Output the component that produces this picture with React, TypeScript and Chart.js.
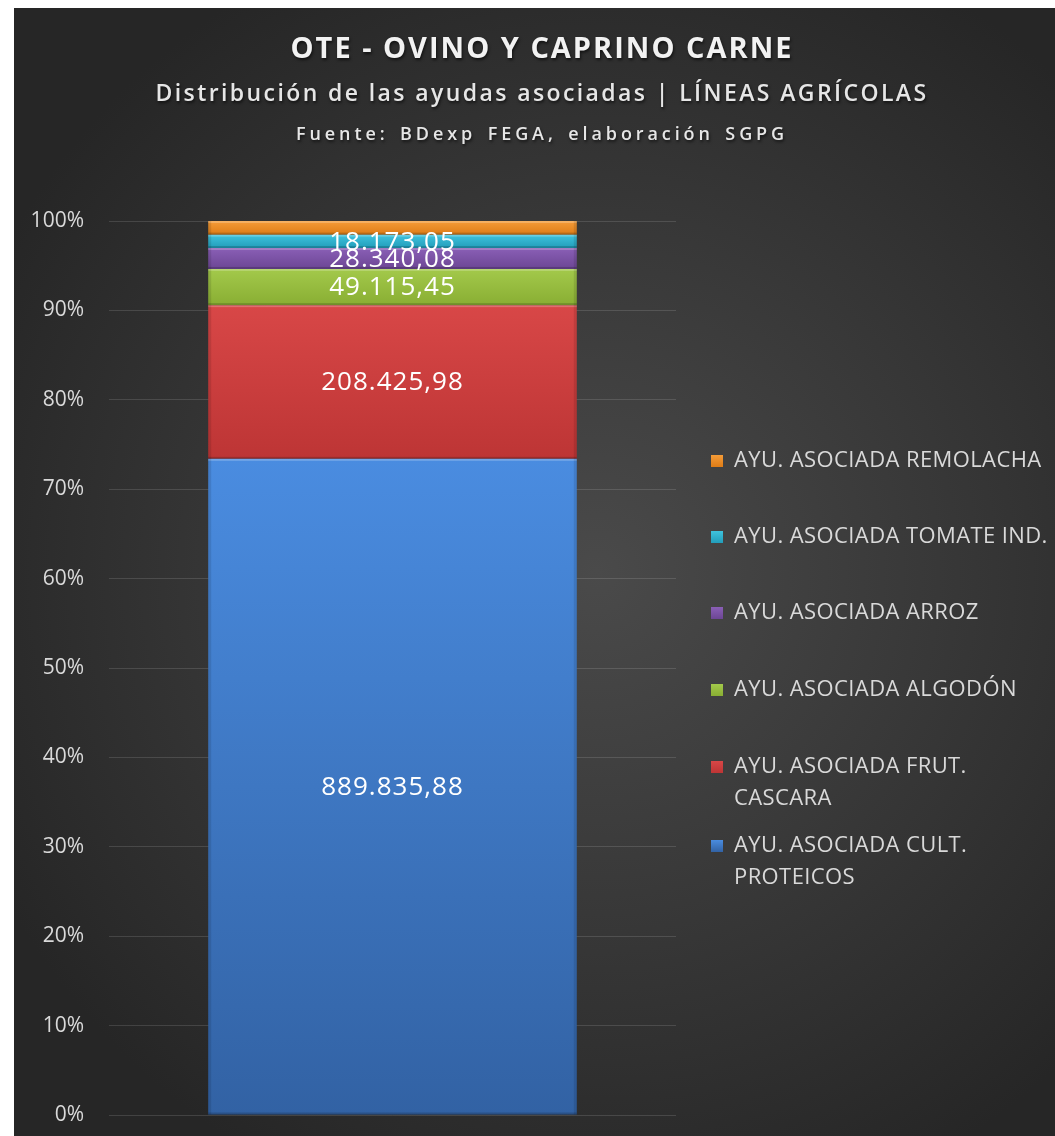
import React, { useEffect, useRef } from "react";
import { Chart, registerables } from "chart.js";

Chart.register(...registerables);

const categories = ["OVINO Y CAPRINO CARNE"];
const seriesNames = [
  "AYU. ASOCIADA CULT. PROTEICOS",
  "AYU. ASOCIADA FRUT. CASCARA",
  "AYU. ASOCIADA ALGODÓN",
  "AYU. ASOCIADA ARROZ",
  "AYU. ASOCIADA TOMATE IND.",
  "AYU. ASOCIADA REMOLACHA",
];
const legendLines = [
  ["AYU. ASOCIADA CULT.", "PROTEICOS"],
  ["AYU. ASOCIADA FRUT.", "CASCARA"],
  ["AYU. ASOCIADA ALGODÓN"],
  ["AYU. ASOCIADA ARROZ"],
  ["AYU. ASOCIADA TOMATE IND."],
  ["AYU. ASOCIADA REMOLACHA"],
];
const seriesValues = [889835.88, 208425.98, 49115.45, 28340.08, 18173.05, 18500];
const showValueLabel = [true, true, true, true, true, false];
const colorsTop = ["#4a8ce0", "#d84747", "#a3c94b", "#8a5fb6", "#3fc3de", "#f59c38"];
const colorsBottom = ["#3262a4", "#bd3535", "#89ae33", "#6c4694", "#229dba", "#de7c16"];
const yTicks = [0, 10, 20, 30, 40, 50, 60, 70, 80, 90, 100];

const FONT = "'Open Sans', 'Noto Sans', sans-serif";

function fmtEs(v: number): string {
  const [i, d] = v.toFixed(2).split(".");
  return i.replace(/\B(?=(\d{3})+(?!\d))/g, ".") + "," + d;
}

const legendY = [838, 759, 682, 605, 529, 453];

const labelsPlugin = {
  id: "customLabels",
  afterDatasetsDraw(chart: any) {
    const ctx = chart.ctx;
    ctx.save();
    // subtle bevel edges on each segment
    chart.data.datasets.forEach((ds: any, i: number) => {
      const meta = chart.getDatasetMeta(i);
      meta.data.forEach((el: any) => {
        const left = el.x - el.width / 2;
        const top = Math.min(el.y, el.base);
        const h = Math.abs(el.base - el.y);
        ctx.fillStyle = "rgba(255,255,255,0.22)";
        ctx.fillRect(left, top, el.width, Math.min(2, h));
        ctx.fillStyle = "rgba(0,0,0,0.18)";
        ctx.fillRect(left, top + h - Math.min(2, h), el.width, Math.min(2, h));
        ctx.fillStyle = "rgba(0,0,0,0.10)";
        ctx.fillRect(left, top, 3, h);
        ctx.fillRect(left + el.width - 3, top, 3, h);
      });
    });
    ctx.font = `26px ${FONT}`;
    (ctx as any).letterSpacing = "1px";
    ctx.fillStyle = "#ffffff";
    ctx.textAlign = "center";
    ctx.textBaseline = "middle";
    chart.data.datasets.forEach((ds: any, i: number) => {
      if (!showValueLabel[i]) return;
      const meta = chart.getDatasetMeta(i);
      meta.data.forEach((el: any) => {
        const cy = (el.y + el.base) / 2;
        ctx.fillText(fmtEs(seriesValues[i]), el.x, cy + 1);
      });
    });
    ctx.restore();
  },
  afterDraw(chart: any) {
    const ctx = chart.ctx;
    ctx.save();
    ctx.font = `22px ${FONT}`;
    (ctx as any).letterSpacing = "0.4px";
    ctx.textBaseline = "middle";
    ctx.textAlign = "left";
    chart.data.datasets.forEach((ds: any, i: number) => {
      const y = legendY[i];
      const g = ctx.createLinearGradient(0, y - 6, 0, y + 6);
      g.addColorStop(0, colorsTop[i]);
      g.addColorStop(1, colorsBottom[i]);
      ctx.fillStyle = g;
      ctx.fillRect(697, y - 6, 12, 12);
      ctx.fillStyle = "#d9d9d9";
      legendLines[i].forEach((line, k) => {
        ctx.fillText(line, 720, y + k * 32);
      });
    });
    ctx.restore();
  },
};

export default function App() {
  const ref = useRef<HTMLCanvasElement | null>(null);
  useEffect(() => {
    if (!ref.current) return;
    const total = seriesValues.reduce((a, b) => a + b, 0);
    const pct = seriesValues.map((v) => (v / total) * 100);
    const chart = new Chart(ref.current, {
      type: "bar",
      data: {
        labels: categories,
        datasets: seriesNames.map((name, i) => ({
          label: name,
          data: [pct[i]],
          backgroundColor: (c: any) => {
            const y = c.chart.scales?.y;
            if (!y) return colorsTop[i];
            const start = pct.slice(0, i).reduce((a, b) => a + b, 0);
            const yTop = y.getPixelForValue(start + pct[i]);
            const yBot = y.getPixelForValue(start);
            if (!isFinite(yTop) || !isFinite(yBot) || yTop === yBot) return colorsTop[i];
            const g = c.chart.ctx.createLinearGradient(0, yTop, 0, yBot);
            g.addColorStop(0, colorsTop[i]);
            g.addColorStop(1, colorsBottom[i]);
            return g;
          },
          borderWidth: 0,
          barPercentage: 0.65,
          categoryPercentage: 1,
        })),
      },
      options: {
        animation: false,
        responsive: false,
        maintainAspectRatio: false,
        layout: { padding: { top: 213, bottom: 21, left: 0, right: 379 } },
        plugins: {
          legend: { display: false },
          title: { display: false },
          tooltip: { enabled: false },
        },
        scales: {
          x: {
            display: false,
            stacked: true,
          },
          y: {
            stacked: true,
            min: 0,
            max: 100,
            afterFit: (s: any) => {
              s.width = 95;
            },
            afterBuildTicks: (s: any) => {
              s.ticks = yTicks.map((v) => ({ value: v }));
            },
            ticks: {
              color: "#d9d9d9",
              font: { family: FONT, size: 21 },
              padding: 0,
              callback: (v: any) => `${v}%`,
            },
            grid: {
              color: "rgba(255,255,255,0.13)",
              drawTicks: true,
              tickLength: 25,
              tickColor: "rgba(0,0,0,0)",
              lineWidth: 1,
            },
            border: { display: false },
          },
        },
      },
      plugins: [labelsPlugin],
    });
    return () => chart.destroy();
  }, []);

  const titleBase: React.CSSProperties = {
    position: "absolute",
    left: 15,
    right: 0,
    textAlign: "center",
    fontFamily: FONT,
    whiteSpace: "nowrap",
    textShadow: "1px 2px 3px rgba(0,0,0,0.6)",
  };

  return (
    <div
      style={{
        position: "fixed",
        left: 14,
        top: 8,
        width: 1041,
        height: 1128,
        background:
          "radial-gradient(ellipse 65% 60% at 56% 50%, #4a4a4a 0%, #3a3a3a 45%, #262626 100%)",
        overflow: "hidden",
      }}
    >
      <canvas ref={ref} width={1041} height={1128} style={{ position: "absolute", left: 0, top: 0 }} />
      <div style={{ ...titleBase, top: 21, fontSize: 29, lineHeight: "36px", fontWeight: 700, color: "#f2f2f2", letterSpacing: 2 }}>
        OTE - OVINO Y CAPRINO CARNE
      </div>
      <div style={{ ...titleBase, top: 68, fontSize: 23, lineHeight: "32px", fontWeight: 600, color: "#e6e6e6", letterSpacing: 2.4 }}>
        Distribución de las ayudas asociadas | LÍNEAS AGRÍCOLAS
      </div>
      <div style={{ ...titleBase, top: 112, fontSize: 18, lineHeight: "26px", fontWeight: 600, color: "#e6e6e6", letterSpacing: 3.9, wordSpacing: 3 }}>
        Fuente: BDexp FEGA, elaboración SGPG
      </div>
    </div>
  );
}
